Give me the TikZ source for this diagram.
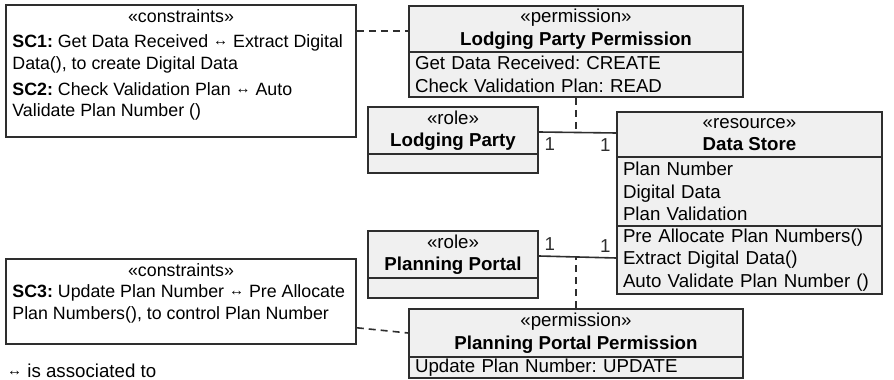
\documentclass[tikz,border=0pt]{standalone}
\usepackage{fontspec}
\setmainfont{Liberation Sans}
\usetikzlibrary{positioning}

\definecolor{umlline}{HTML}{2E2E2E}
\definecolor{umlfill}{HTML}{F0F0F0}
\newcommand{\umlfont}{\fontsize{18.7}{22.5}\selectfont\frenchspacing}
\newcommand{\notefont}{\fontsize{17.8}{21.5}\selectfont\frenchspacing}
\newcommand{\assoc}{\raisebox{2pt}{\fontsize{15}{15}\selectfont ↔}}

\begin{document}
\begin{tikzpicture}[x=1pt, y=1pt]
    \tikzstyle{uml head}=[
        draw = umlline,
        line width = 1.6pt,
        fill = umlfill,
        inner sep = 0pt,
        align = center,
        font = \umlfont
    ]
    \tikzstyle{uml body}=[
        uml head,
        align = left
    ]
    \tikzstyle{note box}=[
        draw = umlline,
        line width = 1.6pt,
        fill = white,
        inner sep = 0pt
    ]
    \tikzstyle{note text}=[
        inner sep = 0pt,
        align = left,
        font = \notefont
    ]
    \tikzstyle{link}=[umlline, line width = 1.6pt]
    \tikzstyle{dash link}=[link, dash pattern = on 7pt off 5pt]
    \tikzstyle{mult}=[inner sep = 5pt, font = \umlfont]

    \useasboundingbox (0,0) rectangle (894,380);

    % constraint notes
    \node[note box, minimum width=350pt, minimum height=132pt] (con1) at (181,309) {};
    \node[note text] (c1st) [below=5pt of con1.north] {«constraints»};
    \node[note text, anchor=north west] (c1txt) at ([xshift=7pt, yshift=-12pt]con1.west |- c1st.south)
        {\textbf{SC1:} Get Data Received \assoc{} Extract Digital\\Data(), to create Digital Data\\[4.5pt]
         \textbf{SC2:} Check Validation Plan \assoc{} Auto\\Validate Plan Number ()};

    \node[note box, minimum width=350pt, minimum height=85pt] (con2) at (181,78.5) {};
    \node[note text] (c2st) [below=5pt of con2.north] {«constraints»};
    \node[note text, anchor=north west] (c2txt) at ([xshift=7pt, yshift=-8pt]con2.west |- c2st.south)
        {\textbf{SC3:} Update Plan Number \assoc{} Pre Allocate\\Plan Numbers(), to control Plan Number};

    % permissions
    \node[uml head, minimum width=334pt, minimum height=46pt] (lpph) at (576,351)
        {«permission»\\\textbf{Lodging Party Permission}};
    \node[uml body, minimum width=334pt, minimum height=45pt, text width=322pt] (lppb) at (576,305.5)
        {Get Data Received: CREATE\\Check Validation Plan: READ};

    \node[uml head, minimum width=334pt, minimum height=48pt] (ppph) at (576,47)
        {«permission»\\\textbf{Planning Portal Permission}};
    \node[uml body, minimum width=334pt, minimum height=21pt, text width=322pt] (pppb) at (576,12.5)
        {Update Plan Number: UPDATE};

    % roles
    \node[uml head, minimum width=170pt, minimum height=47pt] (lprole) at (453,249.5)
        {«role»\\\textbf{Lodging Party}};
    \node[uml body, minimum width=170pt, minimum height=19pt] (lprolb) at (453,216.5) {};

    \node[uml head, minimum width=170pt, minimum height=47pt] (pprole) at (453,125.5)
        {«role»\\\textbf{Planning Portal}};
    \node[uml body, minimum width=170pt, minimum height=20pt] (pprolb) at (453,92) {};

    % resource
    \node[uml head, minimum width=265pt, minimum height=45pt] (dsh) at (749.5,245.5)
        {«resource»\\\textbf{Data Store}};
    \node[uml body, minimum width=265pt, minimum height=69pt, text width=253pt] (dsa) at (749.5,188.5)
        {Plan Number\\Digital Data\\Plan Validation};
    \node[uml body, minimum width=265pt, minimum height=68pt, text width=253pt] (dsm) at (749.5,120)
        {Pre Allocate Plan Numbers()\\Extract Digital Data()\\Auto Validate Plan Number ()};

    % associations
    \draw[link] ([yshift=-1.5pt]lprole.east) coordinate (a1)
        -- ([yshift=1.5pt]dsh.west) coordinate (a2)
        node[mult, pos=0, below right] {1}
        node[mult, pos=1, below left] {1};
    \draw[link] ([yshift=-1.5pt]pprole.east) coordinate (a3)
        -- ([yshift=2pt]dsm.west) coordinate (a4)
        node[mult, pos=0, above right] {1}
        node[mult, pos=1, above left] {1};

    \path[dash link] (lppb.south) edge (lppb.south |- a1);
    \path[dash link] (ppph.north) edge (ppph.north |- a3);
    \path[dash link] ([yshift=-2pt]con1.east |- lpph.west) edge ([yshift=-2pt]lpph.west);
    \path[dash link] ([yshift=17pt]con2.south east) edge (ppph.west);

    \node[note text, anchor=west, font=\umlfont] (legend) at (7,9) {\assoc{} is associated to};

\end{tikzpicture}
\end{document}
